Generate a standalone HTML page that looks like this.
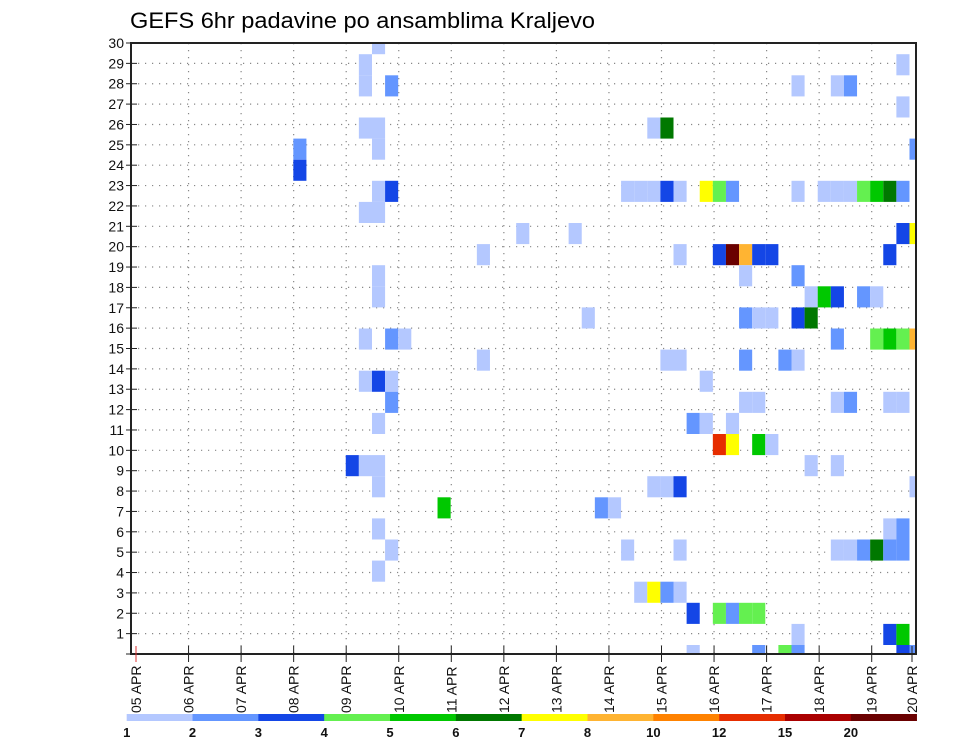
<!DOCTYPE html>
<html><head><meta charset="utf-8"><style>
html,body{margin:0;padding:0;background:#fff;}
svg{display:block;font-family:"Liberation Sans",sans-serif;}
</style></head><body>
<svg id="chart" width="960" height="742" viewBox="0 0 960 742" xmlns="http://www.w3.org/2000/svg">
<text x="130" y="28" font-size="22" textLength="465" lengthAdjust="spacingAndGlyphs">GEFS 6hr padavine po ansamblima Kraljevo</text>
<g id="grid"></g>
<g id="cells" clip-path="url(#plotclip)"></g>
<g id="axes"></g>
<g id="colorbar"></g>
<defs><clipPath id="plotclip"><rect x="131" y="43" width="785" height="611"/></clipPath></defs>
</svg>
<script>
const dayLabels=["05 APR","06 APR","07 APR","08 APR","09 APR","10 APR","11 APR","12 APR","13 APR","14 APR","15 APR","16 APR","17 APR","18 APR","19 APR","20 APR"];
const yTicks=[0,1,2,3,4,5,6,7,8,9,10,11,12,13,14,15,16,17,18,19,20,21,22,23,24,25,26,27,28,29,30];
const levelLabels=["1","2","3","4","5","6","7","8","10","12","15","20"];
const levelColors=["#b4c8ff","#6496ff","#1446e6","#64f050","#00c800","#007800","#ffff00","#ffb432","#ff8200","#e62d00","#aa0000","#6a0000"];
const cellCols=[18, 17,58, 17,19,50,53,54, 58, 17,18,39,40, 12,18,59, 12,
18,19,37,38,39,40,41,43,44,45,50,52,53,54,55,56,57,58, 17,18, 29,33,58,59,
26,41,44,45,46,47,48,57, 18,46,50, 18,51,52,53,55,56, 34,46,47,48,50,51,
17,19,20,53,56,57,58,59, 26,40,41,46,49,50, 17,18,19,43, 19,46,47,53,54,57,58,
18,42,43,45, 44,45,47,48, 16,17,18,51,53, 18,39,40,41,59, 23,35,36, 18,57,58,
19,37,41,53,54,55,56,57,58, 18, 38,39,40,41, 42,44,45,46,47, 50,57,58, 42,47,49,50,58,59];
const cellRows=[29, 28,28, 27,27,27,27,27, 26, 25,25,25,25, 24,24,24, 23,
22,22,22,22,22,22,22,22,22,22,22,22,22,22,22,22,22,22, 21,21, 20,20,20,20,
19,19,19,19,19,19,19,19, 18,18,18, 17,17,17,17,17,17, 16,16,16,16,16,16,
15,15,15,15,15,15,15,15, 14,14,14,14,14,14, 13,13,13,13, 12,12,12,12,12,12,12,
11,11,11,11, 10,10,10,10, 9,9,9,9,9, 8,8,8,8,8, 7,7,7, 6,6,6,
5,5,5,5,5,5,5,5,5, 4, 3,3,3,3, 2,2,2,2,2, 1,1,1, 0,0,0,0,0,0];
const cellLevels=[0, 0,0, 0,1,0,0,1, 0, 0,0,0,5, 1,0,1, 2,
0,2,0,0,0,2,0,6,3,1,0,0,0,0,3,4,5,1, 0,0, 0,0,2,6,
0,0,2,11,7,2,2,2, 0,0,1, 0,0,4,2,1,0, 0,1,0,0,2,5,
0,1,0,1,3,4,3,7, 0,0,0,1,1,0, 0,2,0,0, 1,0,0,0,1,0,0,
0,1,0,0, 9,6,4,0, 2,0,0,0,0, 0,0,0,2,0, 4,1,0, 0,0,1,
0,0,0,0,0,1,5,1,1, 0, 0,6,1,0, 2,3,1,3,3, 0,2,4, 0,1,3,1,2,1];

const NS="http://www.w3.org/2000/svg";
const L=131,R=916,T=43,B=654;
function xDay(i){return i<15?136+52.55*i:912;}
function xCell(c){return 136+13.11*c;}
const cellW=13.11;
function yTick(v){return B-v*(B-T)/30;}
function yRowCenter(j){return 655.55-21.1*j;}
const rowH=21.1;
function mk(tag,attrs,parent){const e=document.createElementNS(NS,tag);for(const k in attrs)e.setAttribute(k,attrs[k]);parent.appendChild(e);return e;}

const grid=document.getElementById('grid');
yTicks.forEach(v=>{if(v>0&&v<30){const ln=mk('line',{x1:L,x2:R,y1:yTick(v),y2:yTick(v),stroke:'#888','stroke-width':1.2,'stroke-dasharray':'1.2,5.8'},grid);

}});
dayLabels.forEach((d,i)=>{if(i>0&&i<15){const ln=mk('line',{x1:xDay(i),x2:xDay(i),y1:T,y2:B,stroke:'#888','stroke-width':1.2,'stroke-dasharray':'1.2,5.8'},grid);

}});

const cg=document.getElementById('cells');
for(let k=0;k<cellCols.length;k++){
  const r=mk('rect',{x:xCell(cellCols[k]),y:yRowCenter(cellRows[k])-rowH/2,width:cellW,height:rowH,fill:levelColors[cellLevels[k]]},cg);
  
  
}

const ax=document.getElementById('axes');
const frame=mk('rect',{x:L,y:T,width:R-L,height:B-T,fill:'none',stroke:'#222','stroke-width':2},ax);


yTicks.forEach(v=>{
  const y=yTick(v);
  mk('line',{x1:126,x2:L+6,y1:y,y2:y,stroke:'#222','stroke-width':1},ax);
  if(v>0){const t=mk('text',{x:124,y:y+5,'font-size':14,'text-anchor':'end',fill:'#111'},ax);
  t.textContent=v;
  
  }
});
dayLabels.forEach((d,i)=>{
  const x=xDay(i);
  mk('line',{x1:x,x2:x,y1:B-8,y2:B+8,stroke:i==0?'#d33':'#222','stroke-width':1},ax);
  const t=mk('text',{x:0,y:0,'font-size':14,'text-anchor':'start',fill:'#111',transform:'translate('+(x+5)+',713) rotate(-90)'},ax);
  t.textContent=d;
  
  
});

const cb=document.getElementById('colorbar');
const cbL=126.7,cbW=65.83;
levelColors.forEach((c,i)=>{
  const r=mk('rect',{x:cbL+cbW*i,y:714,width:cbW+0.3,height:7,fill:c},cb);
  
  
});
levelLabels.forEach((s,i)=>{
  const t=mk('text',{x:cbL+cbW*i,y:737,'font-size':13,'font-weight':'bold','text-anchor':'middle',fill:'#111'},cb);
  t.textContent=s;
  
  
});
</script>
</body></html>
